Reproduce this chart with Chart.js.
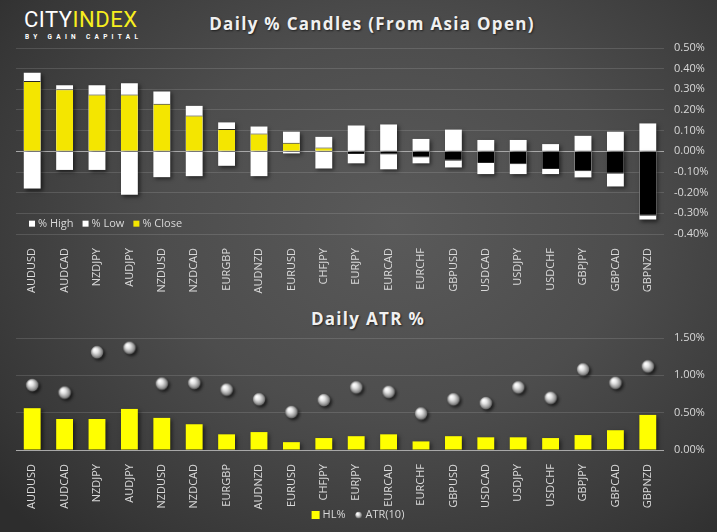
<!DOCTYPE html>
<html>
<head>
<meta charset="utf-8">
<script src="https://cdn.jsdelivr.net/npm/chart.js@4.4.0/dist/chart.umd.min.js"></script>
<style>
  html, body { margin: 0; padding: 0; }
  body {
    width: 717px; height: 532px; overflow: hidden; position: relative;
    background: radial-gradient(ellipse 72% 80% at 55% 42%, #5a5a5a 0%, #4d4d4d 45%, #373737 85%, #2d2d2d 100%);
    font-family: "Open Sans", "Noto Sans", sans-serif;
  }
  #logo { position: absolute; left: 24px; top: 9px; }
  #logo .big { font-family: Roboto, sans-serif; font-size: 22px; line-height: 22px; letter-spacing: 0.5px; color: #fff; }
  #logo .big span { color: #f7ee1e; }
  #logo .small { font-family: Roboto, sans-serif; font-weight: bold; font-size: 6.5px; line-height: 8px; letter-spacing: 4.3px; color: #fff; margin-top: 2px; margin-left: 1px; }
  .title {
    position: absolute; transform: translateX(-50%); white-space: nowrap;
    font-weight: bold; font-size: 17px; letter-spacing: 1.3px; color: #f0f0f0;
    text-shadow: 1px 1px 2px rgba(0,0,0,0.6);
  }
  canvas { position: absolute; left: 0; }
  #candles { top: 0; }
  #atr { top: 300px; }
</style>
</head>
<body>
<div id="logo"><div class="big">CITY<span>INDEX</span></div><div class="small">BY GAIN CAPITAL</div></div>
<div class="title" style="left:372px; top:12px;">Daily % Candles (From Asia Open)</div>
<div class="title" style="left:368px; top:307px;">Daily ATR %</div>
<canvas id="candles" width="717" height="300"></canvas>
<canvas id="atr" width="717" height="232"></canvas>
<script>
// pares e valores (em %)
const pairs = ['AUDUSD','AUDCAD','NZDJPY','AUDJPY','NZDUSD','NZDCAD','EURGBP','AUDNZD','EURUSD','CHFJPY',
  'EURJPY','EURCAD','EURCHF','GBPUSD','USDCAD','USDJPY','USDCHF','GBPJPY','GBPCAD','GBPNZD'];
const highPct  = [0.38, 0.32, 0.32, 0.33, 0.29, 0.22, 0.14, 0.12, 0.095, 0.07, 0.125, 0.13, 0.06, 0.105, 0.055, 0.055, 0.035, 0.075, 0.095, 0.135];
const lowPct   = [-0.18, -0.09, -0.09, -0.21, -0.125, -0.12, -0.07, -0.12, -0.01, -0.083, -0.058, -0.087, -0.058, -0.078, -0.11, -0.11, -0.11, -0.126, -0.17, -0.33];
const closePct = [0.34, 0.30, 0.275, 0.275, 0.23, 0.173, 0.108, 0.086, 0.042, 0.018, -0.013, -0.015, -0.03, -0.045, -0.057, -0.062, -0.086, -0.096, -0.108, -0.312];
const hlPct    = [0.56, 0.415, 0.415, 0.55, 0.43, 0.345, 0.21, 0.24, 0.105, 0.16, 0.185, 0.21, 0.115, 0.185, 0.17, 0.17, 0.16, 0.20, 0.265, 0.47];
const atrPct   = [0.87, 0.77, 1.31, 1.37, 0.89, 0.90, 0.81, 0.68, 0.51, 0.67, 0.84, 0.78, 0.49, 0.68, 0.63, 0.84, 0.70, 1.08, 0.90, 1.12];
const candleRange = [-0.4, 0.5, 0.1];
const atrRange = [0, 1.5, 0.5];

const YELLOW = '#f4e600';
const TXT = '#d9d9d9';
const FONT = '"Open Sans", "Noto Sans", sans-serif';

const pct = v => v.toFixed(2) + '%';
const gridColor = c => (c.tick && Math.abs(c.tick.value) < 1e-9) ? '#a8a8a8' : 'rgba(255,255,255,0.13)';

// bolinha cinza com brilho
function drawSphere(c, x, y, r) {
  const g = c.createRadialGradient(x - r * 0.35, y - r * 0.4, r * 0.1, x, y, r);
  g.addColorStop(0, '#ffffff');
  g.addColorStop(0.35, '#e2e2e2');
  g.addColorStop(0.75, '#9c9c9c');
  g.addColorStop(1, '#5c5c5c');
  c.beginPath();
  c.arc(x, y, r, 0, Math.PI * 2);
  c.fillStyle = g;
  c.fill();
}
const sphereImg = document.createElement('canvas');
sphereImg.width = 22; sphereImg.height = 22;
(() => {
  const c = sphereImg.getContext('2d');
  c.shadowColor = 'rgba(0,0,0,0.6)';
  c.shadowBlur = 3; c.shadowOffsetX = 2; c.shadowOffsetY = 2;
  drawSphere(c, 11, 11, 6.4);
})();

const shade = {
  id: 'shade',
  beforeDatasetDraw(chart, args) {
    const c = chart.ctx;
    c.save();
    if (chart.data.datasets[args.index].shade) {
      c.shadowColor = 'rgba(0,0,0,0.55)';
      c.shadowBlur = 4; c.shadowOffsetX = 2; c.shadowOffsetY = 2;
    }
  },
  afterDatasetDraw(chart) { chart.ctx.restore(); }
};

// legenda dentro da area do grafico, como no original
const candleLegend = {
  id: 'candleLegend',
  afterDraw(chart) {
    const c = chart.ctx;
    const y = chart.scales.y.getPixelForValue(-0.35);
    let x = chart.chartArea.left + 13;
    c.save();
    c.font = '11px ' + FONT;
    c.textBaseline = 'middle';
    chart.data.datasets.forEach(ds => {
      c.fillStyle = ds.legendColor;
      c.fillRect(x, y - 3, 6, 6);
      x += 9;
      c.fillStyle = TXT;
      c.fillText(ds.label, x, y);
      x += c.measureText(ds.label).width + 9;
    });
    c.restore();
  }
};

const atrLegend = {
  id: 'atrLegend',
  afterDraw(chart) {
    const c = chart.ctx;
    const y = 215;
    c.save();
    c.font = '11px ' + FONT;
    c.textBaseline = 'middle';
    const w1 = c.measureText('HL%').width, w2 = c.measureText('ATR(10)').width;
    let x = chart.width / 2 - (8 + 3 + w1 + 10 + 7 + 4 + w2) / 2;
    c.fillStyle = '#ffff00';
    c.fillRect(x, y - 4, 8, 8);
    x += 11;
    c.fillStyle = TXT;
    c.fillText('HL%', x, y);
    x += w1 + 13;
    drawSphere(c, x, y, 3.5);
    x += 7;
    c.fillStyle = TXT;
    c.fillText('ATR(10)', x, y);
    c.restore();
  }
};

const xAxis = h => ({
  grid: { display: false },
  border: { display: false },
  ticks: { color: TXT, font: { family: FONT, size: 11 }, autoSkip: false, minRotation: 90, maxRotation: 90, padding: 6 },
  afterFit(s) { s.height = h; }
});
const yAxis = (range) => ({
  position: 'right',
  min: range[0], max: range[1],
  grid: { color: gridColor, drawTicks: false },
  border: { display: false },
  ticks: { stepSize: range[2], color: TXT, font: { family: FONT, size: 11 }, padding: 10, callback: v => pct(v) },
  afterFit(s) { s.width = 53; }
});

new Chart(document.getElementById('candles'), {
  type: 'bar',
  data: {
    labels: pairs,
    datasets: [
      { label: '% High', data: highPct, backgroundColor: '#ffffff', legendColor: '#ffffff', order: 2, shade: true },
      { label: '% Low', data: lowPct, backgroundColor: '#ffffff', legendColor: '#ffffff', order: 1, shade: true },
      { label: '% Close', data: closePct, legendColor: YELLOW, order: 0,
        backgroundColor: closePct.map(v => v >= 0 ? YELLOW : '#000000'),
        borderColor: '#262626', borderWidth: { top: 1, bottom: 1, left: 0, right: 0 } }
    ]
  },
  options: {
    responsive: false,
    animation: false,
    layout: { padding: { left: 16, top: 48, right: 0, bottom: 0 } },
    datasets: { bar: { grouped: false, categoryPercentage: 1, barPercentage: 0.52 } },
    plugins: { legend: { display: false }, tooltip: { enabled: false } },
    scales: { x: xAxis(66), y: yAxis(candleRange) }
  },
  plugins: [shade, candleLegend]
});

new Chart(document.getElementById('atr'), {
  type: 'bar',
  data: {
    labels: pairs,
    datasets: [
      { type: 'line', label: 'ATR(10)', data: atrPct, showLine: false, pointStyle: sphereImg, pointRadius: 6, order: 0 },
      { label: 'HL%', data: hlPct, backgroundColor: '#ffff00', order: 1, shade: true }
    ]
  },
  options: {
    responsive: false,
    animation: false,
    layout: { padding: { left: 16, top: 38, right: 0, bottom: 0 } },
    datasets: { bar: { categoryPercentage: 1, barPercentage: 0.52 } },
    plugins: { legend: { display: false }, tooltip: { enabled: false } },
    scales: { x: xAxis(82), y: yAxis(atrRange) }
  },
  plugins: [shade, atrLegend]
});
</script>
</body>
</html>
